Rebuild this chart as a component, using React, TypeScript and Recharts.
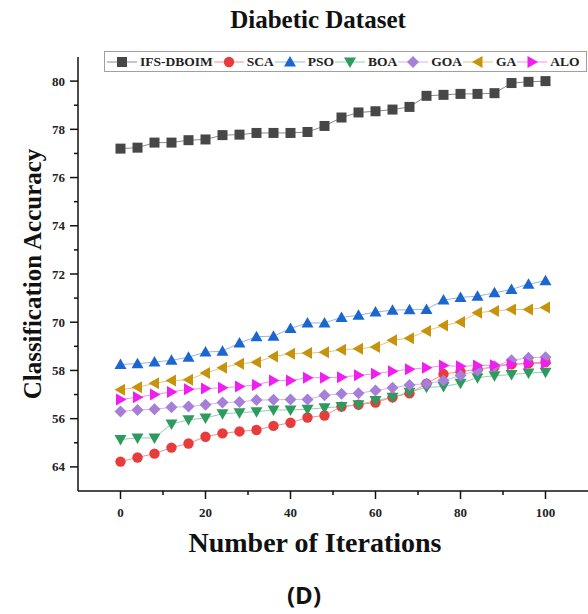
import React from 'react';
import { LineChart, Line, XAxis, YAxis } from 'recharts';

// iterations 0..100, every 4th
const iterations = [0, 4, 8, 12, 16, 20, 24, 28, 32, 36, 40, 44, 48, 52, 56, 60, 64, 68, 72, 76, 80, 84, 88, 92, 96, 100];

const ifsDboim = [77.2, 77.24, 77.45, 77.45, 77.55, 77.58, 77.76, 77.78, 77.85, 77.85, 77.85, 77.89, 78.14, 78.49, 78.7, 78.75, 78.82, 78.93, 79.39, 79.43, 79.47, 79.47, 79.5, 79.92, 79.97, 80.0];
const sca = [64.22, 64.39, 64.55, 64.8, 64.97, 65.25, 65.39, 65.47, 65.53, 65.7, 65.83, 66.05, 66.13, 66.5, 66.58, 66.67, 66.89, 67.05, 67.45, 67.85, 67.95, 68.05, 68.15, 68.25, 68.3, 68.35];
const pso = [68.25, 68.28, 68.35, 68.42, 68.55, 68.76, 68.8, 69.14, 69.4, 69.42, 69.74, 69.97, 69.97, 70.2, 70.29, 70.42, 70.5, 70.52, 70.53, 70.92, 71.03, 71.08, 71.22, 71.36, 71.58, 71.72];
const boa = [65.14, 65.2, 65.2, 65.78, 65.95, 66.03, 66.2, 66.25, 66.29, 66.36, 66.36, 66.39, 66.45, 66.5, 66.58, 66.75, 66.89, 67.1, 67.3, 67.33, 67.47, 67.7, 67.78, 67.83, 67.89, 67.92];
const goa = [66.3, 66.36, 66.39, 66.47, 66.5, 66.58, 66.67, 66.69, 66.77, 66.78, 66.8, 66.8, 66.97, 67.03, 67.05, 67.17, 67.28, 67.4, 67.45, 67.58, 67.79, 68.0, 68.17, 68.42, 68.53, 68.55];
const ga = [67.2, 67.3, 67.47, 67.58, 67.61, 67.89, 68.11, 68.28, 68.34, 68.58, 68.69, 68.72, 68.75, 68.86, 68.9, 68.97, 69.25, 69.34, 69.64, 69.86, 70.01, 70.39, 70.47, 70.53, 70.53, 70.61];
const alo = [66.8, 66.89, 67.0, 67.11, 67.22, 67.25, 67.28, 67.33, 67.4, 67.58, 67.58, 67.7, 67.7, 67.72, 67.8, 67.86, 67.97, 68.05, 68.11, 68.2, 68.17, 68.2, 68.22, 68.25, 68.28, 68.3];

const xTicks = [0, 10, 20, 30, 40, 50, 60, 70, 80, 90, 100];
const yTicks = [64, 65, 66, 67, 68, 69, 70, 71, 72, 73, 74, 75, 76, 77, 78, 79, 80];
// labels as printed on the figure
const yTickLabels = { 64: '64', 66: '56', 68: '58', 70: '70', 72: '72', 74: '74', 76: '76', 78: '78', 80: '80' };

const series = [
  { key: 'ifs', name: 'IFS-DBOIM', values: ifsDboim, shape: 'square', fill: '#474747', line: '#8a8a8a' },
  { key: 'sca', name: 'SCA', values: sca, shape: 'circle', fill: '#e83c3c', line: '#f29090' },
  { key: 'pso', name: 'PSO', values: pso, shape: 'up', fill: '#1c66d0', line: '#93b5e6' },
  { key: 'boa', name: 'BOA', values: boa, shape: 'down', fill: '#2e9a5e', line: '#92cfae' },
  { key: 'goa', name: 'GOA', values: goa, shape: 'diamond', fill: '#a67fd9', line: '#cdb8ec' },
  { key: 'ga', name: 'GA', values: ga, shape: 'left', fill: '#c8930c', line: '#e3c577' },
  { key: 'alo', name: 'ALO', values: alo, shape: 'right', fill: '#f01ef0', line: '#f68df4' },
];

const data = iterations.map((it, i) => {
  const row: any = { it };
  series.forEach(s => { row[s.key] = s.values[i]; });
  return row;
});

const Marker = ({ cx, cy, shape, fill }) => {
  const s = 6;
  switch (shape) {
    case 'square':
      return <rect x={cx - 5} y={cy - 5} width={10} height={10} fill={fill} />;
    case 'circle':
      return <circle cx={cx} cy={cy} r={5.2} fill={fill} />;
    case 'up':
      return <polygon points={`${cx},${cy - s} ${cx - s},${cy + 4.5} ${cx + s},${cy + 4.5}`} fill={fill} />;
    case 'down':
      return <polygon points={`${cx},${cy + s} ${cx - s},${cy - 4.5} ${cx + s},${cy - 4.5}`} fill={fill} />;
    case 'diamond':
      return <polygon points={`${cx},${cy - s} ${cx + s},${cy} ${cx},${cy + s} ${cx - s},${cy}`} fill={fill} />;
    case 'left':
      return <polygon points={`${cx - s},${cy} ${cx + 4.5},${cy - s} ${cx + 4.5},${cy + s}`} fill={fill} />;
    default:
      return <polygon points={`${cx + s},${cy} ${cx - 4.5},${cy - s} ${cx - 4.5},${cy + s}`} fill={fill} />;
  }
};

const serif = '"Liberation Serif", "Times New Roman", serif';
const tickFont = { fontFamily: serif, fontWeight: 'bold', fontSize: 13, fill: '#222' };

const XTick = ({ x, y, payload }) => {
  const major = payload.value % 20 === 0;
  return (
    <g>
      <line x1={x} x2={x} y1={y} y2={y + (major ? 8 : 4)} stroke="#111" strokeWidth={1.5} />
      {major && <text x={x} y={y + 26} textAnchor="middle" style={tickFont}>{payload.value}</text>}
    </g>
  );
};

const YTick = ({ x, y, payload }) => {
  const label = yTickLabels[payload.value];
  return (
    <g>
      <line x1={x - (label ? 8 : 4)} x2={x} y1={y} y2={y} stroke="#111" strokeWidth={1.5} />
      {label && <text x={x - 13} y={y + 4.5} textAnchor="end" style={tickFont}>{label}</text>}
    </g>
  );
};

const LegendSymbol = ({ s }) => (
  <svg width={30} height={14} style={{ display: 'block' }}>
    <line x1={0} x2={30} y1={7} y2={7} stroke={s.line} strokeWidth={1} />
    <Marker cx={15} cy={7} shape={s.shape} fill={s.fill} />
  </svg>
);

export default function App() {
  return (
    <div style={{ position: 'absolute', top: 0, left: 0, width: 588, height: 614, background: '#fff', overflow: 'hidden' }}>
      <LineChart width={588} height={614} data={data} margin={{ top: 57, right: 0, bottom: 0, left: 0 }}>
        <XAxis
          dataKey="it"
          type="number"
          domain={[-10, 110]}
          ticks={xTicks}
          interval={0}
          height={123}
          tickSize={0}
          tickMargin={0}
          tick={XTick}
          axisLine={{ stroke: '#111', strokeWidth: 1.5 }}
          tickLine={false}
        />
        <YAxis
          type="number"
          domain={[63, 81]}
          ticks={yTicks}
          interval={0}
          width={78}
          tickSize={0}
          tickMargin={0}
          tick={YTick}
          axisLine={{ stroke: '#111', strokeWidth: 1.5 }}
          tickLine={false}
        />
        {series.map(s => (
          <Line
            key={s.key}
            dataKey={s.key}
            name={s.name}
            type="linear"
            stroke={s.line}
            strokeWidth={1}
            isAnimationActive={false}
            dot={(p: any) => <Marker key={`${s.key}-${p.index}`} cx={p.cx} cy={p.cy} shape={s.shape} fill={s.fill} />}
            activeDot={false}
          />
        ))}
      </LineChart>

      <div style={{ position: 'absolute', top: 6, left: 0, width: 636, textAlign: 'center', fontFamily: serif, fontWeight: 'bold', fontSize: 25, color: '#111' }}>
        Diabetic Dataset
      </div>

      <div style={{ position: 'absolute', left: 104, top: 51, width: 483, height: 21, border: '1px solid #a0a0a0', boxSizing: 'border-box', display: 'flex', alignItems: 'center', paddingLeft: 2, background: '#fff' }}>
        {series.map(s => (
          <div key={s.key} style={{ display: 'flex', alignItems: 'center' }}>
            <LegendSymbol s={s} />
            <span style={{ fontFamily: serif, fontWeight: 'bold', fontSize: 13.5, color: '#222', marginLeft: 3, marginRight: 1, whiteSpace: 'nowrap' }}>{s.name}</span>
          </div>
        ))}
      </div>

      <div style={{ position: 'absolute', left: 33, top: 274, transform: 'translate(-50%, -50%) rotate(-90deg)', whiteSpace: 'nowrap', fontFamily: serif, fontWeight: 'bold', fontSize: 25, color: '#111' }}>
        Classification Accuracy
      </div>

      <div style={{ position: 'absolute', left: 0, top: 527, width: 630, textAlign: 'center', fontFamily: serif, fontWeight: 'bold', fontSize: 28, color: '#111' }}>
        Number of Iterations
      </div>

      <div style={{ position: 'absolute', left: 0, top: 578, width: 608, textAlign: 'center', fontFamily: '"Open Sans", "Noto Sans", sans-serif', fontWeight: 'bold', fontSize: 24, color: '#111' }}>
        (D)
      </div>
    </div>
  );
}
